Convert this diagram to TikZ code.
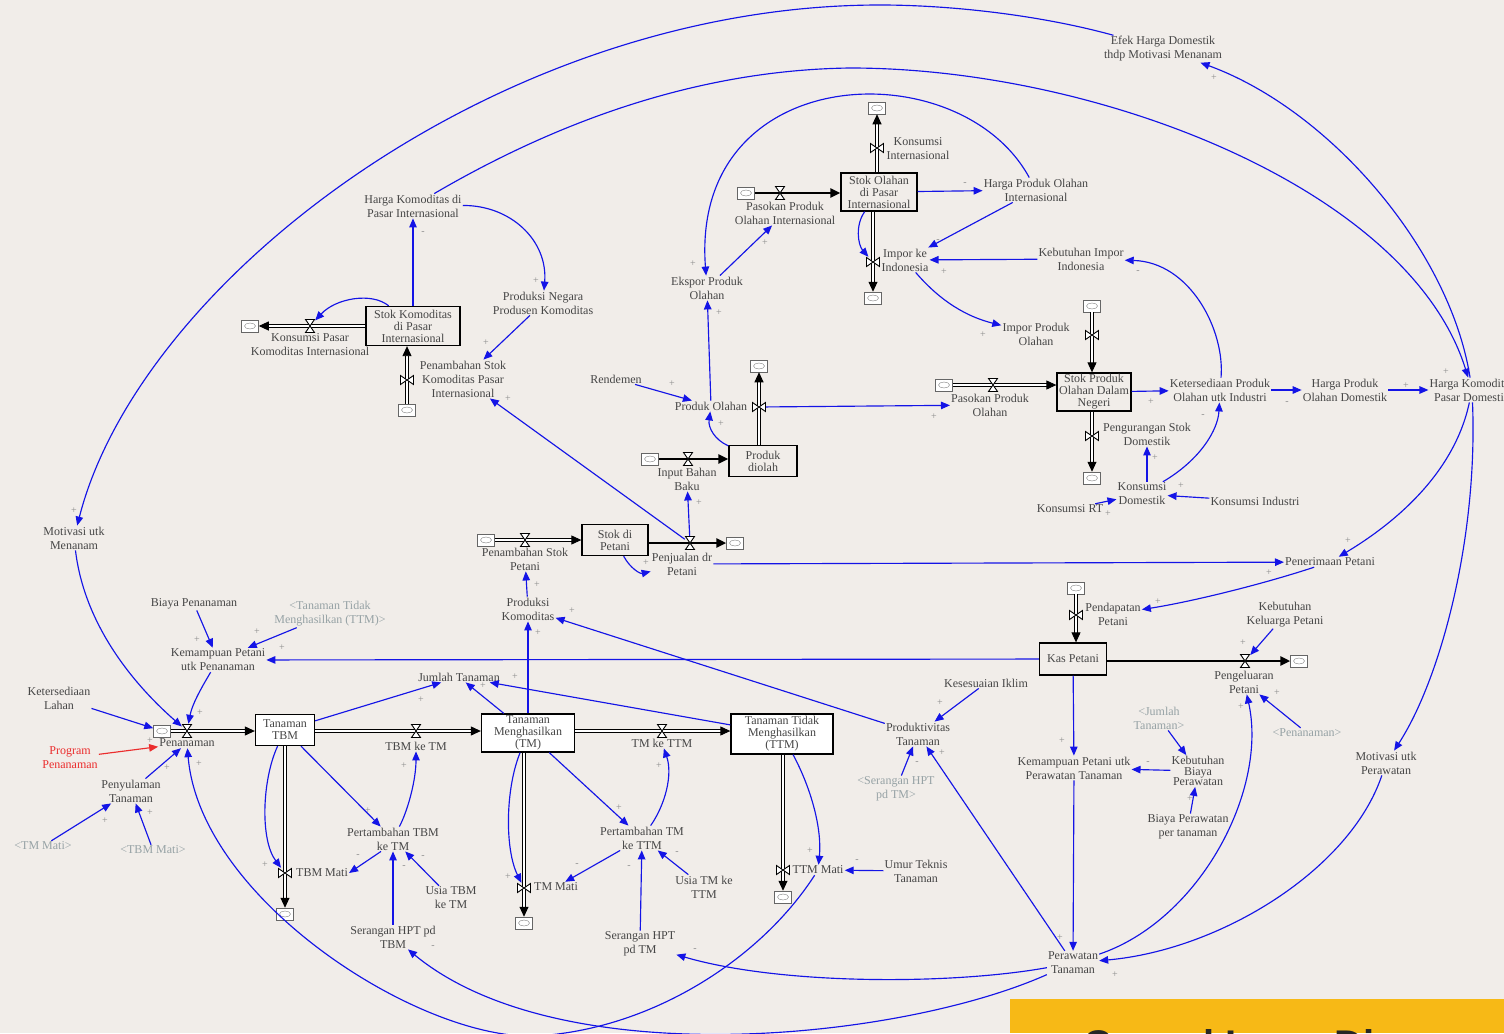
\documentclass[tikz,border=0pt]{standalone}
\usepackage{fontspec}
\setmainfont{Liberation Serif}
\setsansfont{Liberation Sans}
\usetikzlibrary{arrows.meta}
\definecolor{bg}{RGB}{241,237,233}
\definecolor{lk}{RGB}{20,20,230}
\definecolor{tx}{RGB}{70,70,70}
\definecolor{sh}{RGB}{150,162,165}
\definecolor{rd}{RGB}{235,45,45}
\definecolor{ban}{RGB}{247,185,22}
\begin{document}
\begin{tikzpicture}[x=1pt,y=-1pt,
  lbl/.style={font=\fontsize{12}{14}\selectfont, text=tx, align=center, inner sep=1pt},
  shv/.style={lbl, text=sh},
  stock/.style={draw=black, line width=1.3pt, fill=bg, font=\fontsize{12}{12}\selectfont, text=tx, align=center, inner sep=0pt},
  wstock/.style={stock, fill=white},
  cld/.style={draw=black!60, fill=white, line width=0.5pt, minimum width=17pt, minimum height=12pt, inner sep=0pt,
     path picture={\draw[black!50, line width=0.4pt] (path picture bounding box.center) ellipse (5.5pt and 3pt);}},
  valveH/.style={minimum width=10pt, minimum height=14pt, inner sep=0pt},
  valveV/.style={minimum width=14pt, minimum height=10pt, inner sep=0pt},
  link/.style={draw=lk, line width=1.15pt, -{Triangle[length=9pt,width=7.5pt]}},
  pipe/.style={draw=black, line width=0.9pt, double=white, double distance=2.2pt, -{Triangle[length=10pt,width=9pt]}},
  pipes/.style={draw=black, line width=2.8pt, -{Triangle[length=10pt,width=9pt]}},
  sg/.style={font=\fontsize{10}{10}\selectfont, text=black!45, inner sep=0pt},
  vh/.pic={\draw[line width=0.9pt, fill=white] (-4.5pt,-6.5pt) -- (4.5pt,-6.5pt) -- (-4.5pt,6.5pt) -- (4.5pt,6.5pt) -- cycle;},
  vv/.pic={\draw[line width=0.9pt, fill=white] (-6.5pt,-4.5pt) -- (-6.5pt,4.5pt) -- (6.5pt,-4.5pt) -- (6.5pt,4.5pt) -- cycle;}
]
\fill[bg] (0,0) rectangle (1504,1033);
\useasboundingbox (0,0) rectangle (1504,1033);

% ---------- stocks
\node[stock, minimum width=94pt, minimum height=39pt] (stokKom) at (413,326) {Stok Komoditas\\di Pasar\\Internasional};
\node[stock, minimum width=76pt, minimum height=38pt] (stokOl) at (879,192) {Stok Olahan\\di Pasar\\Internasional};
\node[stock, minimum width=74pt, minimum height=38pt] (stokDN) at (1094,392) {Stok Produk\\Olahan Dalam\\Negeri};
\node[stock, minimum width=68pt, minimum height=31pt] (prodD) at (763,461) {Produk\\diolah};
\node[stock, minimum width=66pt, minimum height=31pt] (stokPet) at (615,540) {Stok di\\Petani};
\node[stock, minimum width=67pt, minimum height=32pt] (kas) at (1073,659) {Kas Petani};
\node[wstock, minimum width=59pt, minimum height=31pt] (stokTBM) at (285,730) {Tanaman\\TBM};
\node[wstock, minimum width=93pt, minimum height=38pt] (stokTM) at (528,733) {Tanaman\\Menghasilkan\\(TM)};
\node[wstock, minimum width=102pt, minimum height=40pt] (stokTTM) at (782,734) {Tanaman Tidak\\Menghasilkan\\(TTM)};

% ---------- clouds
\node[cld] (cKPK) at (250,326) {};
\node[cld] (cPSK) at (407,410) {};
\node[cld] (cPPOI) at (746,193) {};
\node[cld] (cKI) at (877,108) {};
\node[cld] (cImp) at (873,298) {};
\node[cld] (cPO) at (759,366) {};
\node[cld] (cIBB) at (650,459) {};
\node[cld] (cPSP) at (486,540) {};
\node[cld] (cPjl) at (735,543) {};
\node[cld] (cPPO) at (944,385) {};
\node[cld] (cIPO) at (1092,306) {};
\node[cld] (cPSD) at (1092,478) {};
\node[cld] (cPend) at (1076,588) {};
\node[cld] (cPeng) at (1299,661) {};
\node[cld] (cPen) at (162,731) {};
\node[cld] (cTBMm) at (285,914) {};
\node[cld] (cTMm) at (524,923) {};
\node[cld] (cTTMm) at (783,897) {};

% ---------- valves
\node[valveH] (vKPK) at (310,326) {};
\node[valveV] (vPSK) at (407,380) {};
\node[valveH] (vPPOI) at (780,193) {};
\node[valveV] (vKI) at (877,148) {};
\node[valveV] (vImp) at (873,262) {};
\node[valveV] (vPO) at (759,407) {};
\node[valveH] (vIBB) at (688,459) {};
\node[valveH] (vPSP) at (525,540) {};
\node[valveH] (vPjl) at (690,543) {};
\node[valveH] (vPPO) at (993,385) {};
\node[valveV] (vIPO) at (1092,335) {};
\node[valveV] (vPSD) at (1092,436) {};
\node[valveV] (vPend) at (1076,615) {};
\node[valveH] (vPeng) at (1245,661) {};
\node[valveH] (vPen) at (187,731) {};
\node[valveH] (vTBMTM) at (416,731) {};
\node[valveH] (vTMTTM) at (662,731) {};
\node[valveV] (vTBMm) at (285,873) {};
\node[valveV] (vTMm) at (524,888) {};
\node[valveV] (vTTMm) at (783,870) {};

% ---------- flow labels
\node[lbl] (kpkL) at (310,345) {Konsumsi Pasar\\Komoditas Internasional};
\node[lbl] (pskL) at (463,379) {Penambahan Stok\\Komoditas Pasar\\Internasional};
\node[lbl] (ppoiL) at (785,213) {Pasokan Produk\\Olahan Internasional};
\node[lbl] (kiL) at (918,149) {Konsumsi\\Internasional};
\node[lbl] (impL) at (905,260) {Impor ke\\Indonesia};
\node[lbl] (ipoL) at (1036,334) {Impor Produk\\Olahan};
\node[lbl] (poL) at (711,406) {Produk Olahan};
\node[lbl] (ibbL) at (687,479) {Input Bahan\\Baku};
\node[lbl] (pspL) at (525,559) {Penambahan Stok\\Petani};
\node[lbl] (pjlL) at (682,564) {Penjualan dr\\Petani};
\node[lbl] (ppoL) at (990,405) {Pasokan Produk\\Olahan};
\node[lbl] (psdL) at (1147,434) {Pengurangan Stok\\Domestik};
\node[lbl] (pendL) at (1113,614) {Pendapatan\\Petani};
\node[lbl] (pengL) at (1244,682) {Pengeluaran\\Petani};
\node[lbl] (penL) at (187,743) {Penanaman};
\node[lbl] (tbmtmL) at (416,746) {TBM ke TM};
\node[lbl] (tmttmL) at (662,743) {TM ke TTM};
\node[lbl] (tbmmL) at (322,873) {TBM Mati};
\node[lbl] (tmmL) at (556,887) {TM Mati};
\node[lbl] (ttmmL) at (818,870) {TTM Mati};

% ---------- auxiliaries
\node[lbl] (efek) at (1163,49) {Efek Harga Domestik\\thdp Motivasi Menanam};
\node[lbl] (hkpi) at (413,206) {Harga Komoditas di\\Pasar Internasional};
\node[lbl] (pnpk) at (543,303) {Produksi Negara\\Produsen Komoditas};
\node[lbl] (hpoi) at (1036,190) {Harga Produk Olahan\\Internasional};
\node[lbl] (kii) at (1081,259) {Kebutuhan Impor\\Indonesia};
\node[lbl] (epo) at (707,288) {Ekspor Produk\\Olahan};
\node[lbl] (rend) at (616,379) {Rendemen};
\node[lbl] (kpoi) at (1220,390) {Ketersediaan Produk\\Olahan utk Industri};
\node[lbl] (hpod) at (1345,390) {Harga Produk\\Olahan Domestik};
\node[lbl] (hkpd) at (1472,390) {Harga Komoditas\\Pasar Domestik};
\node[lbl] (kdom) at (1142,494) {Konsumsi\\Domestik};
\node[lbl] (krt) at (1070,509) {Konsumsi RT};
\node[lbl] (kind) at (1255,501) {Konsumsi Industri};
\node[lbl] (mom) at (74,538) {Motivasi utk\\Menanam};
\node[lbl] (bpen) at (194,604) {Biaya Penanaman};
\node[shv] (ttmS) at (330,614) {<Tanaman Tidak\\Menghasilkan (TTM)>};
\node[lbl] (kpp) at (218,660) {Kemampuan Petani\\utk Penanaman};
\node[lbl] (pkom) at (528,609) {Produksi\\Komoditas};
\node[lbl] (pener) at (1330,562) {Penerimaan Petani};
\node[lbl] (kkp) at (1285,615) {Kebutuhan\\Keluarga Petani};
\node[lbl] (jt) at (459,677) {Jumlah Tanaman};
\node[lbl] (iklim) at (986,683) {Kesesuaian Iklim};
\node[lbl] (prod) at (918,734) {Produktivitas\\Tanaman};
\node[shv] (shtmS) at (896,789) {<Serangan HPT\\pd TM>};
\node[lbl] (lahan) at (59,698) {Ketersediaan\\Lahan};
\node[lbl, text=rd] (prog) at (70,758) {Program\\Penanaman};
\node[lbl] (peny) at (131,791) {Penyulaman\\Tanaman};
\node[shv] (tmmS) at (43,846) {<TM Mati>};
\node[shv] (tbmmS) at (153,850) {<TBM Mati>};
\node[lbl] (ptbm) at (393,839) {Pertambahan TBM\\ke TM};
\node[lbl] (usiatbm) at (451,898) {Usia TBM\\ke TM};
\node[lbl] (shtbm) at (393,937) {Serangan HPT pd\\TBM};
\node[lbl] (ptm) at (642,838) {Pertambahan TM\\ke TTM};
\node[lbl] (usiatm) at (704,887) {Usia TM ke\\TTM};
\node[lbl] (shtm) at (640,944) {Serangan HPT\\pd TM};
\node[lbl] (umur) at (916,871) {Umur Teknis\\Tanaman};
\node[lbl] (kppr) at (1074,768) {Kemampuan Petani utk\\Perawatan Tanaman};
\node[shv] (jtS) at (1159,718) {<Jumlah\\Tanaman>};
\node[lbl, font=\fontsize{12}{10.5}\selectfont] (kbp) at (1198,771) {Kebutuhan\\Biaya\\Perawatan};
\node[lbl] (bppt) at (1188,827) {Biaya Perawatan\\per tanaman};
\node[shv] (penS) at (1307,733) {<Penanaman>};
\node[lbl] (mop) at (1386,763) {Motivasi utk\\Perawatan};
\node[lbl] (perw) at (1073,963) {Perawatan\\Tanaman};

% ---------- pipes
\draw[pipe] (stokKom.west |- cKPK) -- (cKPK);
\draw[pipe] (cPSK) -- (cPSK |- stokKom.south);
\draw[pipes] (cPPOI) -- (stokOl.west |- cPPOI);
\draw[pipe] (cKI |- stokOl.north) -- (cKI);
\draw[pipe] (cImp |- stokOl.south) -- (cImp);
\draw[pipe] (cPO |- prodD.north) -- (cPO);
\draw[pipes] (cIBB) -- (prodD.west |- cIBB);
\draw[pipe] (cPSP) -- (stokPet.west |- cPSP);
\draw[pipes] (stokPet.east |- cPjl) -- (cPjl);
\draw[pipe] (cPPO) -- (stokDN.west |- cPPO);
\draw[pipe] (cIPO) -- (cIPO |- stokDN.north);
\draw[pipe] (cPSD |- stokDN.south) -- (cPSD);
\draw[pipe] (cPend) -- (cPend |- kas.north);
\draw[pipes] (kas.east |- cPeng) -- (cPeng);
\draw[pipe] (cPen) -- (stokTBM.west |- cPen);
\draw[pipe] (stokTBM.east |- vTBMTM) -- (stokTM.west |- vTBMTM);
\draw[pipe] (stokTM.east |- vTMTTM) -- (stokTTM.west |- vTMTTM);
\draw[pipe] (cTBMm |- stokTBM.south) -- (cTBMm);
\draw[pipe] (cTMm |- stokTM.south) -- (cTMm);
\draw[pipe] (cTTMm |- stokTTM.south) -- (cTTMm);

\foreach \v in {vKPK,vPPOI,vIBB,vPSP,vPjl,vPPO,vPeng,vPen,vTBMTM,vTMTTM} \pic at (\v) {vh};
\foreach \v in {vPSK,vKI,vImp,vPO,vIPO,vPSD,vPend,vTBMm,vTMm,vTTMm} \pic at (\v) {vv};

% ---------- links
\draw[link] (stokKom) -- (hkpi);
\draw[link] (hkpi) .. controls (510,205) and (548,240) .. (pnpk);
\draw[link] (pnpk) -- (pskL);
\draw[link] (stokKom) .. controls (372,292) and (336,298) .. (vKPK);
\draw[link] (vPjl) -- (pskL);
\draw[link] (efek) .. controls (1040,15) and (950,5) .. (880,5) .. controls (500,5) and (140,280) .. (mom);
\draw[link] (hkpi) .. controls (560,120) and (700,70) .. (850,68) .. controls (1100,68) and (1410,190) .. (hkpd);
\draw[link] (hpoi) .. controls (960,50) and (690,60) .. (epo);
\draw[link] (hkpd) .. controls (1450,250) and (1330,110) .. (efek);
\draw[link] (hkpd) .. controls (1455,470) and (1400,520) .. (pener);
\draw[link] (hkpd) .. controls (1478,540) and (1440,680) .. (mop);
\draw[link] (mop) .. controls (1350,870) and (1220,950) .. (perw);
\draw[link] (hpod) -- (hkpd);
\draw[link] (kpoi) -- (hpod);
\draw[link] (stokDN) -- (kpoi);
\draw[link] (kdom) .. controls (1200,460) and (1218,430) .. (kpoi);
\draw[link] (kdom.north -| psdL) -- (psdL);
\draw[link] (krt) -- (kdom);
\draw[link] (kind) -- (kdom);
\draw[link] (kpoi) .. controls (1225,330) and (1190,262) .. (kii);
\draw[link] (kii) -- (impL);
\draw[link] (hpoi) -- (impL);
\draw[link] (stokOl) -- (hpoi);
\draw[link] (stokOl) .. controls (855,225) and (858,245) .. (vImp);
\draw[link] (impL) .. controls (935,295) and (960,315) .. (ipoL);
\draw[link] (epo) -- (ppoiL);
\draw[link] (poL) -- (epo);
\draw[link] (vPO) -- (ppoL);
\draw[link] (rend) -- (poL);
\draw[link] (prodD) .. controls (715,440) and (708,428) .. (poL);
\draw[link] (stokPet) .. controls (630,568) and (640,574) .. (pjlL);
\draw[link] (vPjl) -- (ibbL);
\draw[link] (pjlL) -- (pener);
\draw[link] (pener) .. controls (1260,585) and (1190,602) .. (pendL);
\draw[link] (kkp) -- (vPeng);
\draw[link] (kas) -- (kpp);
\draw[link] (kas) -- (kppr);
\draw[link] (kppr) -- (perw);
\draw[link] (kbp) -- (kppr);
\draw[link] (jtS) -- (kbp);
\draw[link] (bppt) -- (kbp);
\draw[link] (penS) -- (pengL);
\draw[link] (perw) .. controls (1200,920) and (1268,790) .. (pengL);
\draw[link] (perw) -- (prod);
\draw[link] (iklim) -- (prod);
\draw[link] (shtmS) -- (prod);
\draw[link] (prod) -- (pkom);
\draw[link] (stokTM) -- (pkom);
\draw[link] (pkom) -- (pspL);
\draw[link] (stokTBM) -- (jt);
\draw[link] (stokTM) -- (jt);
\draw[link] (stokTTM) -- (jt);
\draw[link] (perw) .. controls (950,985) and (780,985) .. (shtm);
\draw[link] (perw) .. controls (900,1040) and (560,1075) .. (shtbm);
\draw[link] (ttmmL) .. controls (760,960) and (650,1030) .. (535,1036) .. controls (420,1040) and (200,900) .. (penL);
\draw[link] (mom) .. controls (85,630) and (140,690) .. (vPen);
\draw[link] (kpp) .. controls (200,690) and (192,705) .. (vPen);
\draw[link] (lahan) -- (cPen);
\draw[link, draw=rd] (prog) -- (penL);
\draw[link] (peny) -- (penL);
\draw[link] (tmmS) -- (peny);
\draw[link] (tbmmS) -- (peny);
\draw[link] (bpen) -- (kpp);
\draw[link] (ttmS) -- (kpp);
\draw[link] (stokTBM) .. controls (262,780) and (260,840) .. (vTBMm);
\draw[link] (stokTBM) -- (ptbm);
\draw[link] (ptbm) .. controls (408,810) and (416,780) .. (tbmtmL);
\draw[link] ([xshift=-12pt]ptbm.south) -- (tbmmL.east);
\draw[link] (usiatbm) -- (ptbm);
\draw[link] (shtbm) -- (ptbm);
\draw[link] (stokTM) .. controls (505,790) and (505,850) .. (vTMm);
\draw[link] (stokTM) -- (ptm);
\draw[link] (ptm) .. controls (665,805) and (673,775) .. (tmttmL);
\draw[link] (ptm) -- (tmmL);
\draw[link] (usiatm) -- (ptm);
\draw[link] (shtm) -- (ptm);
\draw[link] (stokTTM) .. controls (812,790) and (822,830) .. (ttmmL);
\draw[link] (umur) -- (ttmmL);

% ---------- polarity signs
\foreach \x/\y/\s [count=\i] in {
 423/233/-, 536/281/+, 486/343/+, 508/399/+, 74/511/+, 1446/372/+, 693/264/+, 1214/78/+,
 1348/541/+, 1115/975/+, 1406/386/+, 1287/403/-, 1151/402/+, 1203/416/-, 1155/458/+, 1108/514/+,
 1181/486/+, 1138/272/-, 944/272/+, 938/241/-, 965/184/-, 983/335/+, 765/243/+, 719/313/+,
 934/417/+, 672/384/+, 721/424/+, 646/563/+, 699/503/+, 1269/573/+, 1158/602/+, 1243/643/+,
 282/648/+, 1062/741/+, 1060/938/+, 1148/763/-, 1190/799/+, 1277/693/+, 1241/707/+, 942/753/+,
 940/703/+, 917/763/-, 572/611/+, 538/633/+, 537/585/+, 421/700/+, 483/686/+, 515/677/+,
 695/950/-, 433/947/-, 199/764/+, 200/713/+, 150/741/+, 167/768/+, 105/821/+, 150/813/+,
 197/640/+, 257/632/+, 265/865/+, 368/811/+, 404/766/+, 358/856/-, 404/867/-, 423/857/-,
 508/877/+, 619/808/+, 659/766/+, 577/865/-, 677/853/-, 629/867/-, 810/851/+, 857/861/-}
 \node[sg] (sg\i) at (\x,\y) {\s};

% ---------- banner
\fill[ban] (1010,999) rectangle (1504,1033);
\begin{scope}
\clip (1010,999) rectangle (1504,1033);
\node[anchor=base west, inner sep=0pt, text=black!85, font=\fontsize{40}{40}\selectfont\sffamily\bfseries] (ttl) at (1083,1058) {Causal Loop Diagram};
\end{scope}
\end{tikzpicture}
\end{document}
